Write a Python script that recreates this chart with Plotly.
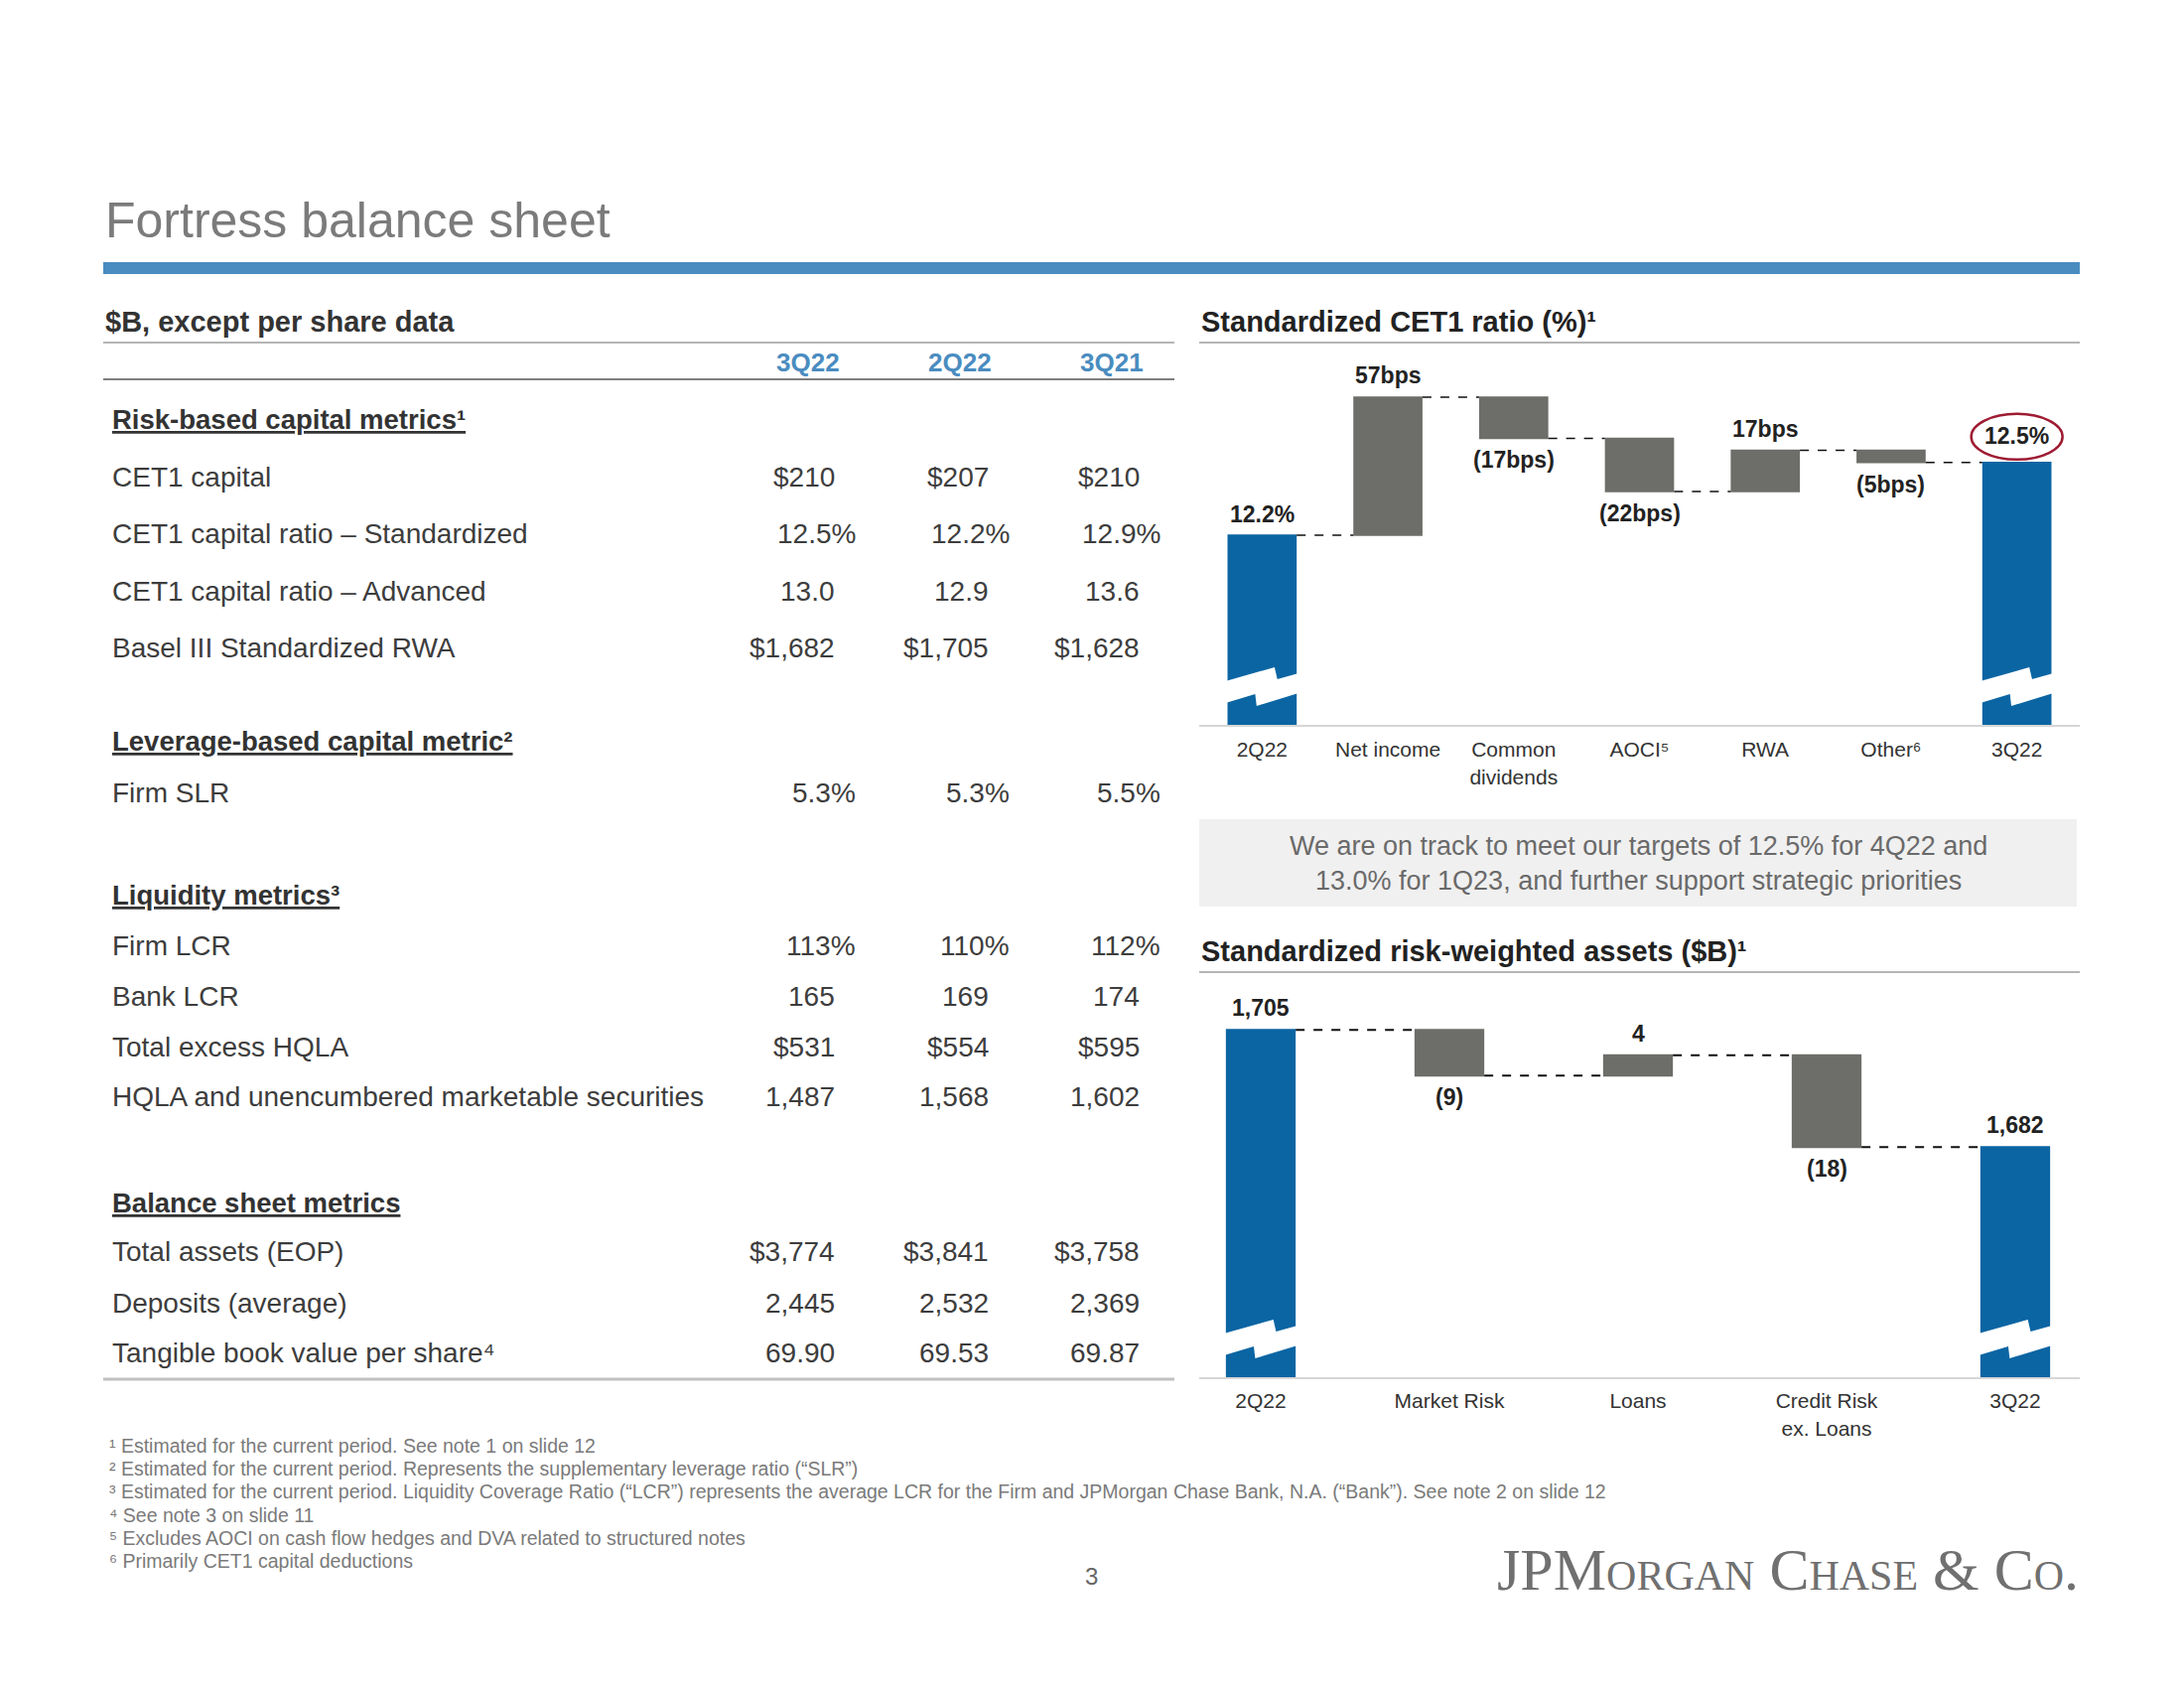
import plotly.graph_objects as go

W, H = 2200, 1700
FONT = "Liberation Sans, Arial, Helvetica, sans-serif"
SERIF = "Liberation Serif, Times New Roman, serif"

TEXT = "#3d3d3d"
DARK = "#222222"
BLUE_HDR = "#4a8cc0"
BAR_BLUE = "#0b65a3"
BAR_GRAY = "#6d6d69"

# ---------------- data ----------------
page_title = "Fortress balance sheet"
table_caption = "$B, except per share data"
periods = ["3Q22", "2Q22", "3Q21"]

risk_title = "Risk-based capital metrics¹"
risk_labels = ["CET1 capital", "CET1 capital ratio – Standardized",
               "CET1 capital ratio – Advanced", "Basel III Standardized RWA"]
risk_values = [["$210", "$207", "$210"],
               ["12.5%", "12.2%", "12.9%"],
               ["13.0", "12.9", "13.6"],
               ["$1,682", "$1,705", "$1,628"]]

leverage_title = "Leverage-based capital metric²"
leverage_labels = ["Firm SLR"]
leverage_values = [["5.3%", "5.3%", "5.5%"]]

liquidity_title = "Liquidity metrics³"
liquidity_labels = ["Firm LCR", "Bank LCR", "Total excess HQLA",
                    "HQLA and unencumbered marketable securities"]
liquidity_values = [["113%", "110%", "112%"],
                    ["165", "169", "174"],
                    ["$531", "$554", "$595"],
                    ["1,487", "1,568", "1,602"]]

balance_title = "Balance sheet metrics"
balance_labels = ["Total assets (EOP)", "Deposits (average)",
                  "Tangible book value per share⁴"]
balance_values = [["$3,774", "$3,841", "$3,758"],
                  ["2,445", "2,532", "2,369"],
                  ["69.90", "69.53", "69.87"]]

cet1_title = "Standardized CET1 ratio (%)¹"
cet1_categories = ["2Q22", "Net income", "Common<br>dividends", "AOCI⁵",
                   "RWA", "Other⁶", "3Q22"]
cet1_start = 12.2
cet1_changes_bps = [57, -17, -22, 17, -5]
cet1_end = 12.5

rwa_title = "Standardized risk-weighted assets ($B)¹"
rwa_categories = ["2Q22", "Market Risk", "Loans", "Credit Risk<br>ex. Loans", "3Q22"]
rwa_start = 1705
rwa_changes = [-9, 4, -18]
rwa_end = 1682

callout_text = ("We are on track to meet our targets of 12.5% for 4Q22 and<br>"
                "13.0% for 1Q23, and further support strategic priorities")
footnotes = [
    "¹ Estimated for the current period. See note 1 on slide 12",
    "² Estimated for the current period. Represents the supplementary leverage ratio (“SLR”)",
    "³ Estimated for the current period. Liquidity Coverage Ratio (“LCR”) represents the average LCR for the Firm and JPMorgan Chase Bank, N.A. (“Bank”). See note 2 on slide 12",
    "⁴ See note 3 on slide 11",
    "⁵ Excludes AOCI on cash flow hedges and DVA related to structured notes",
    "⁶ Primarily CET1 capital deductions",
]
page_number = "3"
logo_text = "JPMorgan Chase & Co."

# ---------------- layout geometry (pixels) ----------------
C1_X = (1208, 2095)
C1_Y = (360, 731)
C1_RANGE = (11.412, 12.934)
C1_BARW = 0.55
C2_X = (1175, 2125)
C2_Y = (990, 1388)
C2_RANGE = (1636.6, 1714.2)
C2_BARW = 0.37


def X(px):
    return px / W


def Y(py):
    return 1 - py / H


def to_py(v, ypx, rng):
    top, bot = ypx
    return bot - (v - rng[0]) / (rng[1] - rng[0]) * (bot - top)


def cat_px(i, n, xpx):
    return xpx[0] + (i + 0.5) * (xpx[1] - xpx[0]) / n


annotations = []
shapes = []


def txt(x, y, text, size, color, bold=False, xanchor="left", yanchor="middle",
        family=FONT, **kw):
    font = dict(size=size, color=color, family=family)
    font.update(kw.pop("font_extra", {}))
    if bold:
        font["weight"] = "bold"
    annotations.append(dict(
        x=X(x), y=Y(y), xref="paper", yref="paper", text=text,
        showarrow=False, xanchor=xanchor, yanchor=yanchor, font=font, **kw))


def hline(x0, x1, y, color, width):
    shapes.append(dict(type="line", xref="paper", yref="paper",
                       x0=X(x0), x1=X(x1), y0=Y(y), y1=Y(y),
                       line=dict(color=color, width=width)))


# ---------------- header ----------------
txt(104, 222, page_title, 50, "#7b7b7b")
shapes.append(dict(type="rect", xref="paper", yref="paper",
                   x0=X(104), x1=X(2095), y0=Y(276), y1=Y(264),
                   fillcolor=BLUE_HDR, line=dict(width=0)))

# ---------------- table ----------------
txt(104, 324, table_caption, 29, "#333333", bold=True)
hline(104, 1183, 345, "#b5b5b5", 2)
HDR_X = [814, 967, 1120]
COL_R = [843, 998, 1150]
PCT_HANG = 21
for p, hx in zip(periods, HDR_X):
    txt(hx, 365, p, 26, BLUE_HDR, bold=True, xanchor="center")
hline(104, 1183, 382, "#555555", 1.5)

sections = [
    (risk_title, risk_labels, risk_values, 422, [480, 537, 595, 652]),
    (leverage_title, leverage_labels, leverage_values, 746, [798]),
    (liquidity_title, liquidity_labels, liquidity_values, 901, [953, 1003, 1054, 1104]),
    (balance_title, balance_labels, balance_values, 1211, [1260, 1312, 1362]),
]
for title, labels, values, hy, rows in sections:
    txt(111, hy, "<u>%s</u>" % title, 27.5, "#333333", bold=True)
    for lab, vals, ry in zip(labels, values, rows):
        txt(111, ry, lab, 28, TEXT)
        for v, cx in zip(vals, COL_R):
            x = cx + (PCT_HANG if v.endswith("%") else 0)
            txt(x, ry, v, 28, TEXT, xanchor="right")
hline(104, 1183, 1389, "#c0c0c0", 3)

# ---------------- CET1 waterfall ----------------
txt(1208, 324, cet1_title, 29, DARK, bold=True)
hline(1208, 2095, 345, "#b5b5b5", 2)
hline(1208, 2095, 731, "#d6d6d6", 2)

cet1_measure = ["absolute"] + ["relative"] * len(cet1_changes_bps) + ["total"]
cet1_y = [cet1_start] + [c / 100 for c in cet1_changes_bps] + [cet1_end]

fig = go.Figure()
fig.add_trace(go.Waterfall(
    x=cet1_categories, y=cet1_y, measure=cet1_measure, width=C1_BARW,
    increasing=dict(marker=dict(color=BAR_GRAY)),
    decreasing=dict(marker=dict(color=BAR_GRAY)),
    totals=dict(marker=dict(color=BAR_BLUE)),
    connector=dict(mode="between", line=dict(color="#111111", width=1.5, dash="dash")),
    textinfo="none", hoverinfo="skip", showlegend=False,
    xaxis="x", yaxis="y"))

lab_font = dict(size=23, color=DARK, family=FONT, weight="bold")
annotations.append(dict(x=cet1_categories[0], y=cet1_start, xref="x", yref="y",
                        text="%.1f%%" % cet1_start, showarrow=False,
                        yanchor="bottom", yshift=6, font=lab_font))
level = cet1_start
for cat, c in zip(cet1_categories[1:-1], cet1_changes_bps):
    level += c / 100
    if c > 0:
        annotations.append(dict(x=cat, y=level, xref="x", yref="y", text="%dbps" % c,
                                showarrow=False, yanchor="bottom", yshift=7, font=lab_font))
    else:
        annotations.append(dict(x=cat, y=level, xref="x", yref="y", text="(%dbps)" % -c,
                                showarrow=False, yanchor="top", yshift=-7, font=lab_font))
annotations.append(dict(x=cet1_categories[-1], y=cet1_end, xref="x", yref="y",
                        text="%.1f%%" % cet1_end, showarrow=False,
                        yanchor="bottom", yshift=12, font=lab_font))

# red ellipse around ending value
n1 = len(cet1_categories)
ecx = cat_px(n1 - 1, n1, C1_X)
etop = to_py(cet1_end, C1_Y, C1_RANGE)
shapes.append(dict(type="circle", xref="paper", yref="paper",
                   x0=X(ecx - 46), x1=X(ecx + 46), y0=Y(etop - 3), y1=Y(etop - 49),
                   line=dict(color="#9e1b32", width=2.5)))


def break_path(cx, hw, cy):
    pts_top = [(0, 6), (0.68, 20), (0.72, 8), (1, 14)]
    pts_bot = [(1, -6), (0.42, -19), (0.40, -7), (0, -16)]
    coords = []
    for f, up in pts_top + pts_bot:
        px = cx - hw + f * 2 * hw
        if f == 0:
            px -= 2
        if f == 1:
            px += 2
        coords.append("%.5f,%.5f" % (X(px), Y(cy - up)))
    return "M " + " L ".join(coords) + " Z"


def add_breaks(n, xpx, ypx, barw, idxs):
    slot = (xpx[1] - xpx[0]) / n
    for i in idxs:
        cx = cat_px(i, n, xpx)
        shapes.append(dict(type="path", xref="paper", yref="paper",
                           path=break_path(cx, barw * slot / 2, ypx[1] - 39),
                           fillcolor="white", line=dict(width=0)))


add_breaks(n1, C1_X, C1_Y, C1_BARW, [0, n1 - 1])

# ---------------- callout ----------------
shapes.append(dict(type="rect", xref="paper", yref="paper",
                   x0=X(1208), x1=X(2092), y0=Y(913), y1=Y(825),
                   fillcolor="#f0f0f0", line=dict(width=0), layer="below"))
txt(1650, 869, callout_text, 27, "#6a6a6a", xanchor="center")

# ---------------- RWA waterfall ----------------
txt(1208, 958, rwa_title, 29, DARK, bold=True)
hline(1208, 2095, 979, "#b5b5b5", 2)
hline(1208, 2095, 1388, "#d6d6d6", 2)

rwa_measure = ["absolute"] + ["relative"] * len(rwa_changes) + ["total"]
rwa_y = [rwa_start] + rwa_changes + [rwa_end]
fig.add_trace(go.Waterfall(
    x=rwa_categories, y=rwa_y, measure=rwa_measure, width=C2_BARW,
    increasing=dict(marker=dict(color=BAR_GRAY)),
    decreasing=dict(marker=dict(color=BAR_GRAY)),
    totals=dict(marker=dict(color=BAR_BLUE)),
    connector=dict(mode="between", line=dict(color="#111111", width=2, dash="dash")),
    textinfo="none", hoverinfo="skip", showlegend=False,
    xaxis="x2", yaxis="y2"))

annotations.append(dict(x=rwa_categories[0], y=rwa_start, xref="x2", yref="y2",
                        text="{:,}".format(rwa_start), showarrow=False,
                        yanchor="bottom", yshift=7, font=lab_font))
level = rwa_start
for cat, c in zip(rwa_categories[1:-1], rwa_changes):
    level += c
    if c > 0:
        annotations.append(dict(x=cat, y=level, xref="x2", yref="y2", text="{:,}".format(c),
                                showarrow=False, yanchor="bottom", yshift=7, font=lab_font))
    else:
        annotations.append(dict(x=cat, y=level, xref="x2", yref="y2", text="({:,})".format(-c),
                                showarrow=False, yanchor="top", yshift=-7, font=lab_font))
annotations.append(dict(x=rwa_categories[-1], y=rwa_end, xref="x2", yref="y2",
                        text="{:,}".format(rwa_end), showarrow=False,
                        yanchor="bottom", yshift=7, font=lab_font))

n2 = len(rwa_categories)
add_breaks(n2, C2_X, C2_Y, C2_BARW, [0, n2 - 1])

# ---------------- footnotes & logo ----------------
for i, fn in enumerate(footnotes):
    txt(108, 1456 + i * 23.2, fn, 19.5, "#7a7a7a")
txt(1099, 1587, page_number, 24, "#666666", xanchor="center")
txt(1506, 1581, logo_text, 60, "#707070", family=SERIF,
    font_extra=dict(variant="small-caps"))

# ---------------- axes ----------------
tickfont = dict(size=21, color="#333333", family=FONT)
fig.update_layout(
    width=W, height=H, margin=dict(l=0, r=0, t=0, b=0),
    paper_bgcolor="white", plot_bgcolor="rgba(0,0,0,0)",
    showlegend=False,
    xaxis=dict(domain=[X(C1_X[0]), X(C1_X[1])], type="category",
               categoryorder="array", categoryarray=cet1_categories,
               showgrid=False, zeroline=False, showline=False,
               ticks="outside", ticklen=5, tickcolor="rgba(0,0,0,0)",
               tickfont=tickfont, anchor="y", fixedrange=True),
    yaxis=dict(domain=[Y(C1_Y[1]), Y(C1_Y[0])], range=list(C1_RANGE),
               visible=False, anchor="x", fixedrange=True),
    xaxis2=dict(domain=[X(C2_X[0]), X(C2_X[1])], type="category",
                categoryorder="array", categoryarray=rwa_categories,
                showgrid=False, zeroline=False, showline=False,
                ticks="outside", ticklen=4, tickcolor="rgba(0,0,0,0)",
                tickfont=tickfont, anchor="y2", fixedrange=True),
    yaxis2=dict(domain=[Y(C2_Y[1]), Y(C2_Y[0])], range=list(C2_RANGE),
                visible=False, anchor="x2", fixedrange=True),
    annotations=annotations,
    shapes=shapes,
)

fig.write_html("out.html", config={"displayModeBar": False},
               post_script="document.body.style.margin='0';")
